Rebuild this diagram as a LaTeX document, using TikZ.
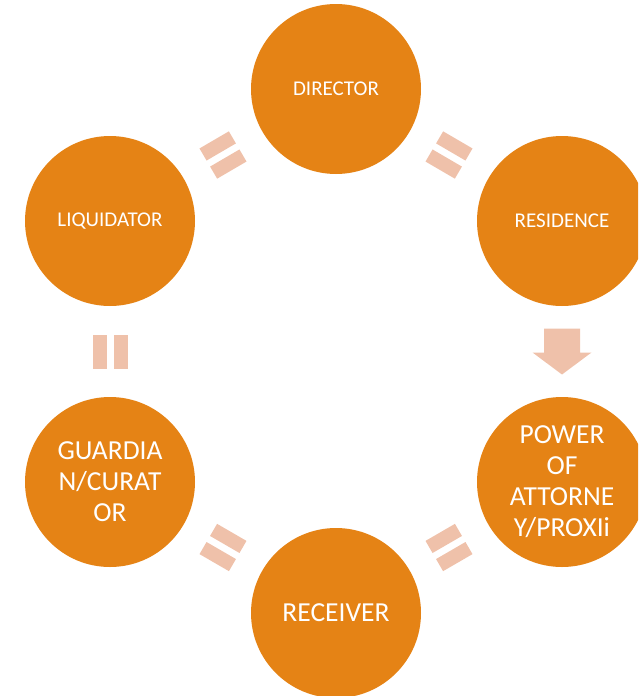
\documentclass[tikz,border=0pt]{standalone}
\usepackage{fontspec}
\setmainfont{Carlito}
\usetikzlibrary{calc}
\definecolor{orng}{HTML}{E58315}
\definecolor{peach}{HTML}{EFC1AA}
\begin{document}
\begin{tikzpicture}[x=1pt,y=-1pt,
  circ/.style={circle,fill=orng,minimum size=170pt,inner sep=0pt,text=white,align=center},
  small/.style={font=\fontsize{21}{25}\selectfont},
  big/.style={font=\fontsize{27.5}{31}\selectfont},
  eqsign/.pic={\fill[peach] (-17,3.5) rectangle (17,17.5); \fill[peach] (-17,-3.5) rectangle (17,-17.5);},
  downarrow/.pic={\fill[peach] (-23,-18) -- (1,-18) -- (1,-29.5) -- (23,0) -- (1,29.5) -- (1,18) -- (-23,18) -- cycle;}
]
\useasboundingbox (0,0) rectangle (638,696);
\clip (0,0) rectangle (638,696);
\node[circ,small] (dir) at (336,89) {DIRECTOR};
\node[circ,small] (res) at (562,221) {RESIDENCE};
\node[circ,big] (poa) at (562,482) {POWER\\OF\\ATTORNE\\Y/PROXIi};
\node[circ,big] (rec) at (336,613) {RECEIVER};
\node[circ,big] (gua) at (110,482) {GUARDIA\\N/CURAT\\OR};
\node[circ,small] (liq) at (110,221) {LIQUIDATOR};
\path let \p1=($(res)-(dir)$), \n1={atan2(\y1,\x1)} in pic[rotate=\n1] at ($(dir)!0.5!(res)$) {eqsign};
\path let \p1=($(poa)-(res)$), \n1={atan2(\y1,\x1)} in pic[rotate=\n1] at ($(res)!0.5!(poa)$) {downarrow};
\path let \p1=($(rec)-(poa)$), \n1={atan2(\y1,\x1)} in pic[rotate=\n1] at ($(poa)!0.5!(rec)$) {eqsign};
\path let \p1=($(gua)-(rec)$), \n1={atan2(\y1,\x1)} in pic[rotate=\n1] at ($(rec)!0.5!(gua)$) {eqsign};
\path let \p1=($(liq)-(gua)$), \n1={atan2(\y1,\x1)} in pic[rotate=\n1] at ($(gua)!0.5!(liq)$) {eqsign};
\path let \p1=($(dir)-(liq)$), \n1={atan2(\y1,\x1)} in pic[rotate=\n1] at ($(liq)!0.5!(dir)$) {eqsign};
\end{tikzpicture}
\end{document}
